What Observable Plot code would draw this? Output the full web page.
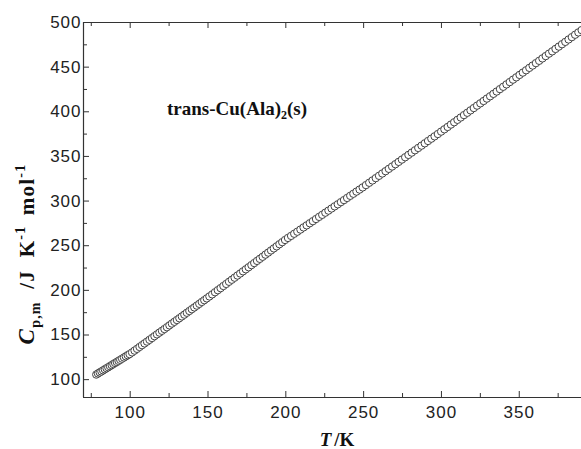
<!DOCTYPE html>
<html>
<head>
<meta charset="utf-8">
<script src="https://cdn.jsdelivr.net/npm/d3@7"></script>
<script src="https://cdn.jsdelivr.net/npm/@observablehq/plot@0.6"></script>
<style>
  html, body { margin: 0; padding: 0; background: white; }
  #chart svg { display: block; }
</style>
</head>
<body>
<div id="chart"></div>
<script>
// Temperature (K)
const T = [
  78.2, 79.3, 80.4, 81.5, 82.6, 83.7, 84.8, 85.9, 87.0, 88.1, 89.2, 90.3, 91.4, 92.5, 93.6, 94.8, 96.0, 97.2, 98.4, 99.6,
  101.2, 102.8, 104.4, 106.0, 107.6, 109.2, 110.8, 112.4, 114.0, 115.6, 117.2, 118.8, 120.4, 122.0, 123.6, 125.2,
  126.8, 128.4, 130.0, 131.6, 133.2, 134.8, 136.4, 138.0, 139.6, 141.2, 142.8, 144.4, 146.0, 147.6, 149.2,
  150.9, 152.7, 154.5, 156.3, 158.1, 159.9, 161.7, 163.5, 165.3, 167.1, 168.9, 170.7, 172.5, 174.3, 176.1, 177.9,
  179.7, 181.5, 183.3, 185.1, 186.9, 188.7, 190.5, 192.3, 194.1, 195.9, 197.7, 199.5,
  201.4, 203.4, 205.4, 207.4, 209.4, 211.4, 213.4, 215.4, 217.4, 219.4, 221.4, 223.4, 225.4, 227.4, 229.4, 231.4,
  233.4, 235.4, 237.4, 239.4, 241.4, 243.4, 245.4, 247.4, 249.4,
  251.5, 253.6, 255.7, 257.8, 259.9, 262.0, 264.1, 266.2, 268.3, 270.4, 272.5, 274.6, 276.7, 278.8, 280.9, 283.0,
  285.1, 287.2, 289.3, 291.4, 293.5, 295.6, 297.7, 299.8,
  301.9, 304.0, 306.1, 308.2, 310.3, 312.4, 314.5, 316.6, 318.7, 320.8, 322.9, 325.0, 327.1, 329.2, 331.3, 333.4,
  335.5, 337.6, 339.7, 341.8, 343.9, 346.0, 348.1, 350.2, 352.3, 354.4, 356.5, 358.6, 360.7, 362.8, 364.9, 367.0,
  369.1, 371.2, 373.3, 375.4, 377.5, 379.6, 381.7, 383.8, 385.9, 388.0, 390.1
];
// Molar heat capacity Cp,m (J K^-1 mol^-1)
const Cp = [
  105.7, 106.9, 108.1, 109.2, 110.4, 111.6, 112.8, 113.9, 115.1, 116.3, 117.5, 118.7, 119.8, 121.0, 122.2, 123.5, 124.8, 126.1, 127.4, 128.6,
  130.5, 132.5, 134.5, 136.6, 138.6, 140.6, 142.6, 144.6, 146.6, 148.7, 150.7, 152.7, 154.7, 156.7, 158.7, 160.8,
  162.8, 164.8, 166.8, 168.8, 170.8, 172.8, 174.9, 176.9, 178.9, 180.9, 182.9, 184.9, 187.0, 189.0, 191.0,
  193.2, 195.5, 197.9, 200.2, 202.5, 204.9, 207.2, 209.6, 211.9, 214.2, 216.6, 218.9, 221.3, 223.6, 225.9, 228.3,
  230.6, 233.0, 235.3, 237.6, 240.0, 242.3, 244.7, 247.0, 249.3, 251.7, 254.0, 256.4,
  258.7, 261.0, 263.4, 265.7, 268.1, 270.5, 272.8, 275.2, 277.5, 279.9, 282.3, 284.6, 287.0, 289.3, 291.7, 294.1,
  296.4, 298.8, 301.1, 303.5, 305.9, 308.2, 310.6, 312.9, 315.3,
  317.9, 320.5, 323.1, 325.7, 328.3, 330.9, 333.5, 336.1, 338.7, 341.3, 343.9, 346.5, 349.1, 351.7, 354.3, 356.9,
  359.5, 362.1, 364.7, 367.3, 369.9, 372.5, 375.1, 377.8,
  380.4, 383.0, 385.7, 388.3, 391.0, 393.6, 396.3, 398.9, 401.6, 404.2, 406.9, 409.5, 412.1, 414.8, 417.4, 420.1,
  422.7, 425.4, 428.0, 430.7, 433.3, 436.0, 438.6, 441.3, 443.9, 446.5, 449.2, 451.8, 454.5, 457.1, 459.8, 462.4,
  465.1, 467.7, 470.4, 473.0, 475.7, 478.3, 481.0, 483.6, 486.3, 488.9, 491.5
];
// Ticks
const xMajor = [100, 150, 200, 250, 300, 350];
const xMinor = [75, 125, 175, 225, 275, 325, 375];
const yMajor = [100, 150, 200, 250, 300, 350, 400, 450, 500];
const yMinor = [125, 175, 225, 275, 325, 375, 425, 475];
// Domains
const xDomain = [70, 390];
const yDomain = [80, 500];
// Text
const annotation = {main: "trans-Cu(Ala)", sub: "2", tail: "(s)", x: 124, y: 396};

const data = T.map((t, i) => ({T: t, Cp: Cp[i]}));

const W = 581, H = 449, mL = 83, mR = 0, mT = 22, mB = 52;
const fw = W - mL - mR, fh = H - mT - mB;
const axisColor = "#333";

const plot = Plot.plot({
  width: W, height: H,
  marginLeft: mL, marginRight: mR, marginTop: mT, marginBottom: mB,
  x: {domain: xDomain},
  y: {domain: yDomain},
  style: {fontFamily: "'Liberation Sans', Arial, sans-serif", fontSize: "17px", color: "#222", background: "white"},
  marks: [
    Plot.axisX({ticks: xMajor, tickSize: 0, tickPadding: 8, label: null, fontSize: 17, tickFormat: d => String(d)}),
    Plot.axisY({ticks: yMajor, tickSize: 0, tickPadding: 2, label: null, fontSize: 17, tickFormat: d => String(d)}),
    // bottom ticks (inward)
    Plot.tickX(xMajor, {x: d => d, insetTop: fh - 6, stroke: axisColor}),
    Plot.tickX(xMinor, {x: d => d, insetTop: fh - 4, stroke: axisColor}),
    // top ticks (inward)
    Plot.tickX(xMajor, {x: d => d, insetBottom: fh - 6, stroke: axisColor}),
    Plot.tickX(xMinor, {x: d => d, insetBottom: fh - 4, stroke: axisColor}),
    // left ticks (inward)
    Plot.tickY(yMajor, {y: d => d, insetRight: fw - 6, stroke: axisColor}),
    Plot.tickY(yMinor, {y: d => d, insetRight: fw - 4, stroke: axisColor}),
    // axis lines
    Plot.ruleY([yDomain[0], yDomain[1]], {stroke: axisColor, strokeWidth: 1.2}),
    Plot.ruleX([xDomain[0]], {stroke: axisColor, strokeWidth: 1.2}),
    Plot.dot(data, {x: "T", y: "Cp", r: 3.7, stroke: "#444", strokeWidth: 1, fill: "white", clip: true})
  ]
});

document.getElementById("chart").appendChild(plot);

const svg = d3.select(plot);
// widen tick labels slightly, like the reference's wide sans-serif digits
svg.selectAll("g[aria-label='x-axis tick label'] text, g[aria-label='y-axis tick label'] text")
  .attr("letter-spacing", "1px");

const xs = plot.scale("x"), ys = plot.scale("y");
const serif = "'Liberation Serif', 'Times New Roman', serif";

// In-plot label
const ann = svg.append("text")
  .attr("x", xs.apply(annotation.x)).attr("y", ys.apply(annotation.y))
  .attr("text-anchor", "start")
  .attr("font-family", serif).attr("font-weight", "bold").attr("font-size", 19)
  .attr("fill", "#111");
ann.append("tspan").text(annotation.main);
ann.append("tspan").attr("dy", 4).attr("font-size", 12).text(annotation.sub);
ann.append("tspan").attr("dy", -4).text(annotation.tail);

// X axis title
const xt = svg.append("text")
  .attr("x", 337).attr("y", 446)
  .attr("text-anchor", "middle")
  .attr("font-family", serif).attr("font-weight", "bold").attr("font-size", 19)
  .attr("fill", "#111");
xt.append("tspan").attr("font-style", "italic").text("T");
xt.append("tspan").attr("dx", 3).text("/K");

// Y axis title
const yt = svg.append("text")
  .attr("transform", "translate(34,254) rotate(-90)")
  .attr("text-anchor", "middle")
  .attr("letter-spacing", "1.2px")
  .attr("font-family", serif).attr("font-weight", "bold").attr("font-size", 21)
  .attr("fill", "#111");
yt.append("tspan").attr("font-style", "italic").attr("font-size", 23).text("C");
yt.append("tspan").attr("dy", 6).attr("font-size", 14).text("p,m");
yt.append("tspan").attr("dy", -6).attr("dx", 6).text(" /J  K");
yt.append("tspan").attr("dy", -9).attr("font-size", 14).text("-1");
yt.append("tspan").attr("dy", 9).attr("dx", 4).text(" mol");
yt.append("tspan").attr("dy", -9).attr("font-size", 14).text("-1");
</script>
</body>
</html>
